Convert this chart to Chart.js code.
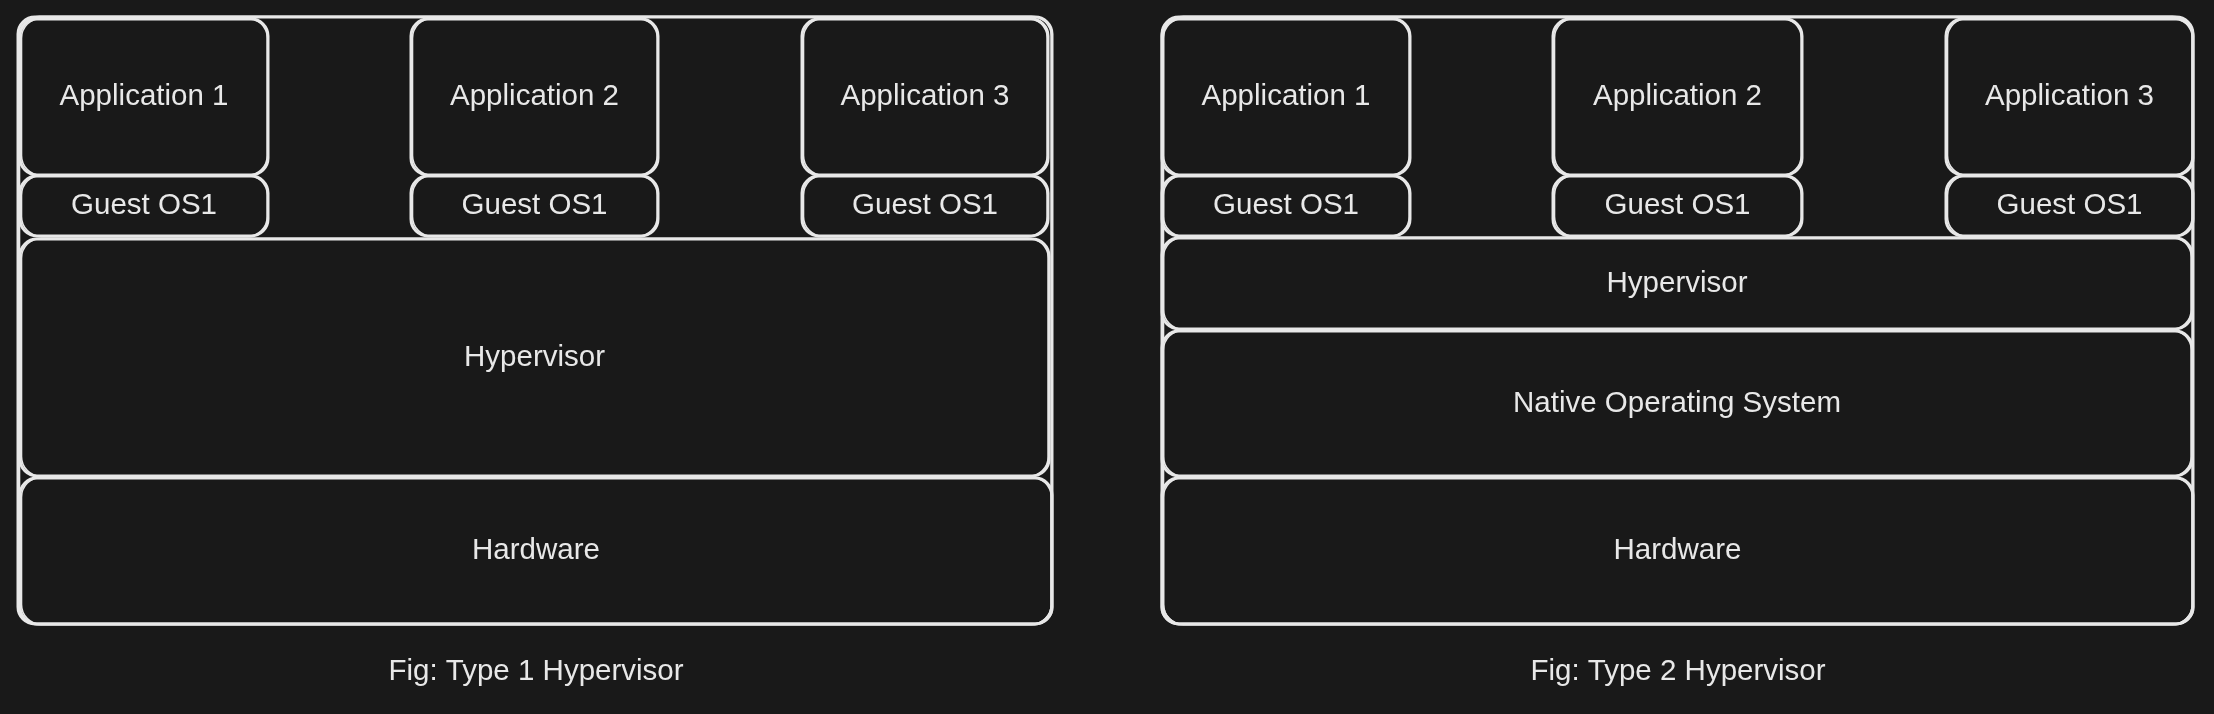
<!DOCTYPE html>
<html>
<head>
<meta charset="utf-8">
<script src="https://cdn.jsdelivr.net/npm/chart.js@4.4.0/dist/chart.umd.min.js"></script>
<style>
  html, body { margin: 0; padding: 0; background: #191919; }
  #wrap { width: 2214px; height: 714px; }
</style>
</head>
<body>
<div id="wrap"><canvas id="diagram"></canvas></div>
<script>
// === Boxes of both figures (picture units, y grows downwards) ===
const boxText = [
  "", "Application 1", "Application 2", "Application 3",
  "Guest OS1", "Guest OS1", "Guest OS1", "Hypervisor", "Hardware",
  "", "Application 1", "Application 2", "Application 3",
  "Guest OS1", "Guest OS1", "Guest OS1", "Hypervisor", "Native Operating System", "Hardware"
];
const boxLeft   = [18, 20, 411, 802, 20, 411, 802, 20, 20,
                   1162, 1162, 1553, 1946, 1162, 1553, 1946, 1162, 1162, 1162];
const boxRight  = [1052, 268, 658, 1048, 268, 658, 1048, 1049, 1052,
                   2193, 1410, 1802, 2193, 1410, 1802, 2193, 2192, 2192, 2193];
const boxTop    = [17, 19, 19, 19, 176, 176, 176, 239, 478,
                   17, 19, 19, 19, 176, 176, 176, 238, 331, 478];
const boxBottom = [624, 175, 175, 175, 236, 236, 236, 476, 624,
                   624, 175, 175, 175, 236, 236, 236, 329, 476, 624];

// === Captions ===
const captionText = ["Fig: Type 1 Hypervisor", "Fig: Type 2 Hypervisor"];
const captionX = [536, 1678];
const captionY = [672, 672];

const LINE = "#e8e8e8";
const FONT = '29.5px "Liberation Sans", Arial, sans-serif';

// === Plugin that draws the sketched boxes through the chart scales ===
const sketchBoxes = {
  id: "sketchBoxes",
  beforeDraw(chart) {
    const ctx = chart.ctx;
    ctx.save();
    ctx.fillStyle = "#191919";
    ctx.fillRect(0, 0, chart.width, chart.height);
    ctx.restore();
  },
  afterDatasetsDraw(chart) {
    const ctx = chart.ctx;
    const sx = chart.scales.x;
    const sy = chart.scales.y;
    ctx.save();
    ctx.strokeStyle = LINE;
    ctx.lineJoin = "round";
    ctx.lineCap = "round";

    boxText.forEach((txt, i) => {
      const x0 = sx.getPixelForValue(boxLeft[i]);
      const x1 = sx.getPixelForValue(boxRight[i]);
      const y0 = sy.getPixelForValue(boxTop[i]);
      const y1 = sy.getPixelForValue(boxBottom[i]);
      // two slightly shifted strokes for the hand drawn look
      ctx.lineWidth = 3;
      ctx.beginPath();
      ctx.roundRect(x0, y0, x1 - x0, y1 - y0, 17);
      ctx.stroke();
      ctx.lineWidth = 1.6;
      ctx.beginPath();
      ctx.roundRect(x0 + 1.5, y0 - 0.8, x1 - x0 - 2.2, y1 - y0 + 1.3, 20);
      ctx.stroke();

      if (txt) {
        ctx.fillStyle = LINE;
        ctx.font = FONT;
        ctx.textAlign = "center";
        ctx.textBaseline = "middle";
        ctx.fillText(txt, (x0 + x1) / 2, (y0 + y1) / 2);
      }
    });

    captionText.forEach((txt, i) => {
      ctx.fillStyle = LINE;
      ctx.font = FONT;
      ctx.textAlign = "center";
      ctx.textBaseline = "middle";
      ctx.fillText(txt, sx.getPixelForValue(captionX[i]), sy.getPixelForValue(captionY[i]));
    });
    ctx.restore();
  }
};

new Chart(document.getElementById("diagram").getContext("2d"), {
  type: "scatter",
  data: { datasets: [{ data: [] }] },
  options: {
    responsive: true,
    maintainAspectRatio: false,
    animation: false,
    events: [],
    layout: { padding: 0 },
    plugins: { legend: { display: false }, tooltip: { enabled: false } },
    scales: {
      x: { type: "linear", min: 0, max: 2214, display: false },
      y: { type: "linear", min: 0, max: 714, reverse: true, display: false }
    }
  },
  plugins: [sketchBoxes]
});
</script>
</body>
</html>
